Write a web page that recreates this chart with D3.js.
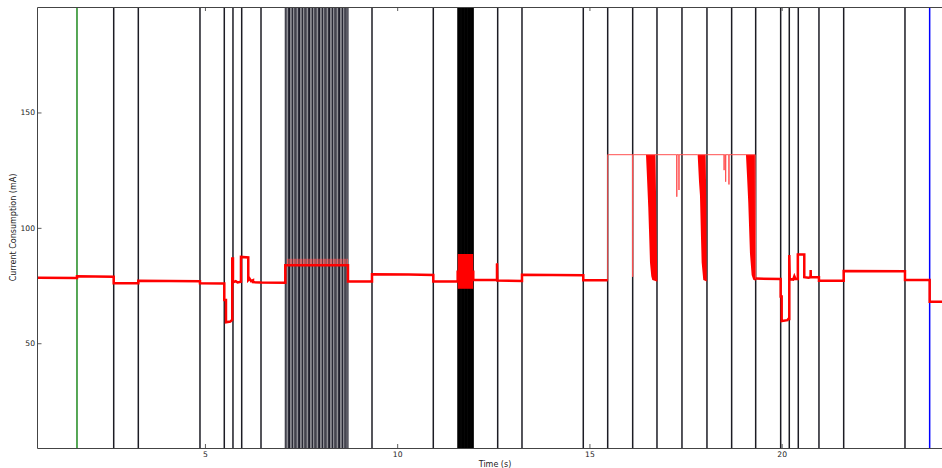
<!DOCTYPE html>
<html>
<head>
<meta charset="utf-8">
<script src="https://cdn.jsdelivr.net/npm/d3@7/dist/d3.min.js"></script>
<style>
  html, body { margin: 0; padding: 0; background: #fff; }
  svg { display: block; font-family: "DejaVu Sans", sans-serif; }
</style>
</head>
<body>
<svg id="chart" width="942" height="468"></svg>
<script>
// ---------- data ----------
const xTicks = [5, 10, 15, 20];
const yTicks = [50, 100, 150];
const xDomain = [0.645, 24.43];
const yDomain = [4.6, 195.7];

const startMarker = [1.672];   // green
const endMarker = [23.849];    // blue
const eventLines = [2.627, 3.267, 4.871, 5.503, 5.729, 5.956, 6.458, 9.345, 10.939,
  12.614, 13.246, 14.840, 15.475, 16.125, 16.757, 17.407, 18.057, 18.699, 19.324,
  19.974, 20.198, 20.432, 20.970, 21.613, 23.207];
const denseLines = [7.09, 7.13, 7.17, 7.20, 7.24, 7.28, 7.32, 7.35, 7.39, 7.43, 7.46,
  7.50, 7.54, 7.58, 7.61, 7.65, 7.69, 7.72, 7.76, 7.80, 7.84, 7.87, 7.91, 7.95, 7.98,
  8.02, 8.06, 8.10, 8.13, 8.17, 8.21, 8.24, 8.28, 8.32, 8.36, 8.39, 8.43, 8.47, 8.50,
  8.54, 8.58, 8.62, 8.65, 8.69, 8.72];
const burstLines = [11.58, 11.60, 11.62, 11.64, 11.66, 11.68, 11.70, 11.72, 11.74,
  11.76, 11.78, 11.80, 11.82, 11.84, 11.86, 11.88, 11.90, 11.92, 11.94, 11.96, 11.975];

// current trace [time s, mA]
const trace = [
  [0.645,78.4],[1.672,78.3],[1.672,79.0],[2.627,78.8],[2.627,76.0],[3.267,76.0],
  [3.267,77.1],[4.871,76.9],[4.871,76.0],[5.503,75.9],[5.503,68.7],[5.547,68.7],
  [5.547,59.1],[5.66,59.4],[5.711,60.2],[5.711,86.7],[5.729,86.7],[5.729,76.4],
  [5.80,76.9],[5.85,76.3],[5.937,76.6],[5.937,87.4],[6.127,87.2],[6.127,77.4],
  [6.16,78.0],[6.20,76.9],[6.250,77.3],[6.250,76.5],[6.458,76.3],[7.090,76.2],
  [7.090,83.8],[8.720,83.8],[8.720,76.8],[9.345,76.8],[9.345,79.9],[10.30,79.8],
  [10.939,79.6],[10.939,76.8],[11.573,76.8],[11.573,81.0],[11.979,81.0],[11.979,77.4],
  [12.596,77.4],[12.596,84.6],[12.604,77.2],[13.246,77.0],[13.246,79.7],[14.840,79.5],
  [14.840,77.3],[15.475,77.3],[15.475,131.7],[16.120,131.7],[16.125,78.8],[16.130,131.7],
  [16.471,131.7],[16.757,131.7],[17.269,131.7],[17.272,113.5],[17.276,131.7],
  [17.325,131.7],[17.329,116.4],[17.333,131.7],[17.815,131.7],[18.045,131.7],
  [18.499,131.7],[18.503,125.0],[18.507,131.7],[18.540,131.7],[18.543,120.0],
  [18.547,131.7],[18.625,131.7],[18.629,118.8],[18.633,131.7],[19.071,131.7],
  [19.310,131.7],[19.324,78.0],[19.974,77.8],[19.974,70.2],[20.000,70.2],[20.000,59.6],
  [20.15,60.0],[20.172,60.5],[20.198,60.5],[20.198,88.2],[20.210,77.8],[20.30,77.6],
  [20.33,79.0],[20.36,77.8],[20.420,77.8],[20.420,88.5],[20.588,88.5],[20.588,78.6],
  [20.70,78.4],[20.750,78.6],[20.754,81.7],[20.758,78.6],[20.970,78.6],[20.970,77.1],
  [21.613,77.1],[21.613,81.3],[23.207,81.2],[23.207,77.4],[23.849,77.4],[23.849,68.0],
  [24.43,68.0]
];
// oscillation envelopes [time, low, high]
const env1 = [[16.471,131.7,131.7],[16.489,125,131.7],[16.530,109,131.7],[16.557,95,131.7],
  [16.575,85,131.7],[16.609,79,131.7],[16.635,77.4,131.7],[16.718,77.0,131.7],
  [16.740,76.8,105],[16.765,76.8,79]];
const env2 = [[17.815,131.7,131.7],[17.850,120,131.7],[17.875,114,131.7],[17.901,96,131.7],
  [17.919,85,131.7],[17.961,77.4,131.7],[18.023,77.0,131.7],[18.040,76.8,110],[18.050,76.8,80]];
const env3 = [[19.071,131.7,131.7],[19.100,122,131.7],[19.131,111,131.7],[19.175,89,131.7],
  [19.219,79.6,131.7],[19.261,77.5,131.7],[19.310,77.2,131.7],[19.324,77.0,80]];
const burst = [[11.576,73.6,88.7],[11.976,73.6,88.7]];
const denseSpikeTop = 86.6;
const denseBase = 83.8;

// ---------- drawing ----------
const svg = d3.select("#chart");
const L = 37.5, R = 952, T = 7, B = 448;
const x = d3.scaleLinear().domain(xDomain).range([L, R]);
const y = d3.scaleLinear().domain(yDomain).range([B, T]);

svg.append("rect").attr("width", 942).attr("height", 468).attr("fill", "#fff");
svg.append("clipPath").attr("id", "clip").append("rect")
  .attr("x", L).attr("y", T).attr("width", R - L).attr("height", B - T);
const plot = svg.append("g").attr("clip-path", "url(#clip)");

function vlines(data, color, width) {
  plot.append("g").selectAll("line").data(data).join("line")
    .attr("x1", d => x(d)).attr("x2", d => x(d))
    .attr("y1", T).attr("y2", B)
    .attr("stroke", color).attr("stroke-width", width);
}
vlines(eventLines, "#1c1c24", 1.5);
vlines(denseLines, "#20202c", 1.1);
vlines(burstLines, "#000", 1.4);
vlines(startMarker, "#1f8a1f", 1.5);
vlines(endMarker, "#0000ff", 1.5);

const area = d3.area().x(d => x(d[0])).y0(d => y(d[1])).y1(d => y(d[2]));
[env1, env2, env3, burst].forEach(e => {
  plot.append("path").attr("d", area(e)).attr("fill", "#ff0000");
});

// dense spikes
plot.append("g").selectAll("line").data(denseLines.slice(1, -1)).join("line")
  .attr("x1", d => x(d) + 0.6).attr("x2", d => x(d) + 0.6)
  .attr("y1", y(denseBase)).attr("y2", y(denseSpikeTop))
  .attr("stroke", "#ff5a5a").attr("stroke-width", 0.8);

const line = d3.line().x(d => x(d[0])).y(d => y(d[1]));
plot.append("path").attr("d", line(trace))
  .attr("fill", "none").attr("stroke", "#ff5050").attr("stroke-width", 1);
const thick = d3.line().defined(d => d[1] < 125).x(d => x(d[0])).y(d => y(d[1]));
plot.append("path").attr("d", thick(trace))
  .attr("fill", "none").attr("stroke", "#ff0000").attr("stroke-width", 2.5);

// axes
const fontSize = "7.6px";
const xAxis = d3.axisBottom(x).tickValues(xTicks).tickSizeInner(-4).tickSizeOuter(0).tickPadding(3.5);
const gx = svg.append("g").attr("transform", `translate(0,${B})`).call(xAxis);
const gxTop = svg.append("g").attr("transform", `translate(0,${T})`)
  .call(d3.axisTop(x).tickValues(xTicks).tickSizeInner(-4).tickSizeOuter(0).tickFormat(""));
const yAxis = d3.axisLeft(y).tickValues(yTicks).tickSizeInner(-4).tickSizeOuter(0).tickPadding(2.5);
const gy = svg.append("g").attr("transform", `translate(${L},0)`).call(yAxis);
[gx, gxTop, gy].forEach(g => {
  g.select(".domain").remove();
  g.selectAll(".tick line").attr("stroke", "#333").attr("stroke-width", 0.8);
  g.selectAll(".tick text").attr("fill", "#222").style("font-size", fontSize)
    .style("font-family", "DejaVu Sans");
});

// spines
svg.append("path")
  .attr("d", `M${R},${T + 0.5}H${L}V${B + 0.5}H${R}`)
  .attr("fill", "none").attr("stroke", "#444").attr("stroke-width", 1);

svg.append("text").attr("x", 495).attr("y", 466.5).attr("text-anchor", "middle")
  .style("font-size", "8px").attr("fill", "#222").text("Time (s)");
svg.append("text").attr("transform", `translate(15.5,227.5) rotate(-90)`)
  .attr("text-anchor", "middle").style("font-size", "8px").attr("fill", "#222")
  .text("Current Consumption (mA)");
</script>
</body>
</html>
